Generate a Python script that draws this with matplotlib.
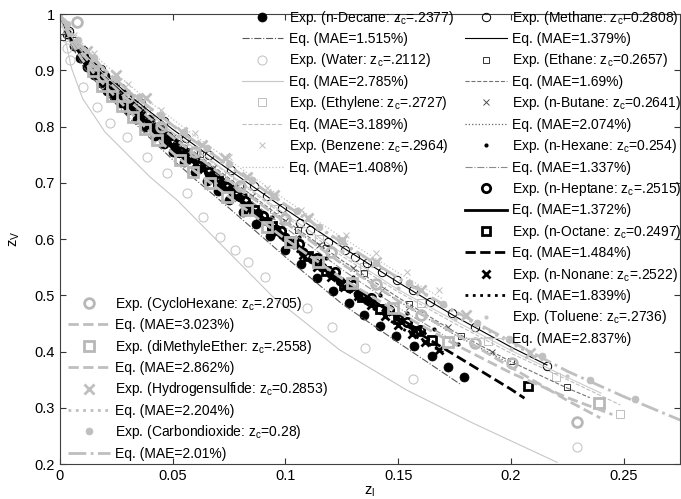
import numpy as np
import matplotlib
matplotlib.use("Agg")
import matplotlib.pyplot as plt
from matplotlib.ticker import FuncFormatter

plt.rcParams['font.family'] = ['Liberation Sans', 'DejaVu Sans']
plt.rcParams['mathtext.fontset'] = 'custom'
plt.rcParams['mathtext.rm'] = 'Liberation Sans'

# ---- data (z_L, z_V) ----
# n-Decane (two overlapping data sets form the black band)
dec_x = [0.003, 0.006, 0.009, 0.012, 0.015, 0.018, 0.021, 0.024, 0.027, 0.030, 0.034, 0.038,
         0.042, 0.046, 0.050, 0.055, 0.060, 0.065, 0.070, 0.075, 0.081, 0.087, 0.093, 0.100,
         0.107, 0.114, 0.121, 0.128, 0.135, 0.142, 0.149, 0.157, 0.165, 0.172, 0.179,
         0.016, 0.020, 0.024, 0.028, 0.032, 0.036, 0.040, 0.044, 0.048, 0.052, 0.056, 0.060,
         0.064, 0.068, 0.072, 0.076, 0.080, 0.084, 0.088, 0.092, 0.096, 0.100, 0.104, 0.108,
         0.112, 0.116, 0.120, 0.124, 0.128, 0.132, 0.136]
dec_y = [0.965, 0.944, 0.922, 0.906, 0.892, 0.878, 0.864, 0.852, 0.841, 0.829, 0.814, 0.799,
         0.784, 0.769, 0.754, 0.737, 0.720, 0.703, 0.686, 0.669, 0.648, 0.627, 0.606, 0.580,
         0.555, 0.531, 0.508, 0.486, 0.465, 0.446, 0.428, 0.410, 0.392, 0.373, 0.354,
         0.906, 0.889, 0.873, 0.858, 0.842, 0.828, 0.813, 0.798, 0.784, 0.769, 0.755, 0.742,
         0.729, 0.715, 0.702, 0.689, 0.674, 0.660, 0.646, 0.632, 0.618, 0.604, 0.591, 0.577,
         0.564, 0.551, 0.538, 0.525, 0.513, 0.502, 0.491]
dec_eq_x = [0, 0.005, 0.01, 0.02, 0.03, 0.04, 0.05, 0.06, 0.075, 0.1, 0.125, 0.15, 0.1775]
dec_eq_y = [1, 0.945, 0.908, 0.860, 0.818, 0.779, 0.741, 0.706, 0.655, 0.568, 0.485, 0.416, 0.342]

# Water
wat_x = [0.001, 0.002, 0.003, 0.0044, 0.0102, 0.0164, 0.0222, 0.0297, 0.0386, 0.0475, 0.0563,
         0.0635, 0.0710, 0.0776, 0.0834, 0.0910, 0.1096, 0.1207, 0.1353, 0.1566, 0.2294]
wat_y = [0.985, 0.960, 0.940, 0.918, 0.870, 0.835, 0.806, 0.781, 0.746, 0.717, 0.682,
         0.639, 0.604, 0.580, 0.559, 0.532, 0.477, 0.443, 0.406, 0.351, 0.230]
wat_eq_x = [0, 0.005, 0.01, 0.02, 0.03, 0.04, 0.052, 0.07, 0.0945, 0.124, 0.154, 0.183, 0.2205]
wat_eq_y = [1, 0.905, 0.850, 0.790, 0.750, 0.710, 0.669, 0.596, 0.497, 0.403, 0.331, 0.273, 0.203]

# Ethylene
ety_x = [0.004, 0.012, 0.024, 0.038, 0.055, 0.075, 0.095, 0.115, 0.135, 0.16, 0.19, 0.22, 0.2485]
ety_y = [0.966, 0.922, 0.875, 0.827, 0.774, 0.712, 0.654, 0.600, 0.550, 0.487, 0.418, 0.355, 0.289]
ety_eq_x = [0, 0.005, 0.01, 0.02, 0.03, 0.05, 0.075, 0.1, 0.125, 0.15, 0.175, 0.2, 0.225, 0.2485]
ety_eq_y = [1, 0.960, 0.931, 0.889, 0.854, 0.788, 0.714, 0.640, 0.570, 0.506, 0.450, 0.397, 0.350, 0.305]

# Benzene
ben_x = [0.006, 0.015, 0.03, 0.045, 0.06, 0.075, 0.0918, 0.107, 0.127, 0.14, 0.154, 0.168]
ben_y = [0.962, 0.930, 0.875, 0.830, 0.788, 0.745, 0.691, 0.652, 0.607, 0.575, 0.541, 0.510]
ben_eq_x = [0, 0.01, 0.02, 0.04, 0.06, 0.08, 0.1, 0.125, 0.15, 0.17]
ben_eq_y = [1, 0.948, 0.910, 0.843, 0.783, 0.726, 0.670, 0.603, 0.540, 0.493]

# Methane
met_x = [0.004, 0.01, 0.018, 0.027, 0.036, 0.046, 0.056, 0.066, 0.076, 0.086, 0.092, 0.0985,
         0.1065, 0.111, 0.119, 0.1265, 0.131, 0.136, 0.143, 0.1495, 0.1566, 0.164, 0.174, 0.184, 0.216]
met_y = [0.970, 0.936, 0.903, 0.869, 0.841, 0.810, 0.780, 0.750, 0.722, 0.694, 0.677, 0.655,
         0.628, 0.616, 0.595, 0.580, 0.568, 0.557, 0.541, 0.527, 0.509, 0.488, 0.468, 0.443, 0.374]
met_eq_x = [0, 0.005, 0.01, 0.02, 0.03, 0.04, 0.05, 0.06, 0.075, 0.1, 0.125, 0.15, 0.175, 0.2, 0.216]
met_eq_y = [1, 0.960, 0.933, 0.893, 0.858, 0.826, 0.795, 0.766, 0.723, 0.653, 0.586, 0.523, 0.463, 0.408, 0.376]

# Ethane
eta_x = [0.001, 0.006, 0.016, 0.03, 0.045, 0.062, 0.08, 0.1056, 0.118, 0.135, 0.155, 0.178, 0.2, 0.225]
eta_y = [0.959, 0.953, 0.904, 0.852, 0.802, 0.751, 0.696, 0.616, 0.584, 0.540, 0.485, 0.428, 0.384, 0.337]
eta_eq_x = [0, 0.005, 0.01, 0.02, 0.03, 0.05, 0.075, 0.1, 0.125, 0.15, 0.175, 0.2, 0.225, 0.235]
eta_eq_y = [1, 0.958, 0.929, 0.887, 0.850, 0.784, 0.708, 0.633, 0.562, 0.496, 0.435, 0.382, 0.335, 0.318]

# n-Butane
but_x = [0.008, 0.02, 0.035, 0.05, 0.068, 0.085, 0.1, 0.115, 0.13, 0.143, 0.155, 0.172, 0.1917]
but_y = [0.940, 0.886, 0.833, 0.782, 0.726, 0.676, 0.632, 0.589, 0.548, 0.509, 0.479, 0.443, 0.399]
but_eq_x = [0, 0.005, 0.01, 0.02, 0.03, 0.05, 0.075, 0.1, 0.125, 0.15, 0.175, 0.2]
but_eq_y = [1, 0.957, 0.928, 0.885, 0.848, 0.781, 0.704, 0.629, 0.557, 0.490, 0.430, 0.378]

# n-Hexane
hex_x = [0.004, 0.012, 0.022, 0.034, 0.046, 0.058, 0.07, 0.082, 0.094, 0.106, 0.118, 0.13,
         0.142, 0.154, 0.166, 0.1766]
hex_y = [0.964, 0.920, 0.877, 0.833, 0.790, 0.752, 0.714, 0.678, 0.640, 0.603, 0.567, 0.532,
         0.500, 0.469, 0.440, 0.413]
hex_eq_x = [0, 0.005, 0.01, 0.02, 0.03, 0.05, 0.075, 0.1, 0.125, 0.15, 0.178]
hex_eq_y = [1, 0.956, 0.925, 0.882, 0.845, 0.775, 0.698, 0.620, 0.546, 0.478, 0.410]

# n-Heptane
hep_x = [0.01, 0.018, 0.026, 0.034, 0.042, 0.05, 0.058, 0.066, 0.074, 0.082, 0.09, 0.098,
         0.106, 0.114, 0.122, 0.13, 0.138, 0.146, 0.154, 0.1597]
hep_y = [0.925, 0.889, 0.857, 0.827, 0.798, 0.770, 0.745, 0.719, 0.693, 0.667, 0.641, 0.615,
         0.591, 0.566, 0.541, 0.518, 0.496, 0.474, 0.453, 0.438]
hep_eq_x = [0, 0.005, 0.01, 0.02, 0.03, 0.05, 0.075, 0.1, 0.125, 0.15, 0.162]
hep_eq_y = [1, 0.954, 0.922, 0.877, 0.839, 0.767, 0.687, 0.606, 0.529, 0.460, 0.432]

# n-Octane
oct_x = [0.014, 0.022, 0.03, 0.038, 0.046, 0.054, 0.062, 0.07, 0.078, 0.086, 0.094, 0.102,
         0.11, 0.118, 0.126, 0.134, 0.142, 0.15, 0.158, 0.165, 0.2077]
oct_y = [0.906, 0.872, 0.842, 0.812, 0.782, 0.755, 0.729, 0.703, 0.678, 0.651, 0.624, 0.597,
         0.570, 0.544, 0.519, 0.497, 0.476, 0.457, 0.437, 0.420, 0.339]
oct_eq_x = [0, 0.005, 0.01, 0.02, 0.03, 0.04, 0.05, 0.06, 0.075, 0.1, 0.125, 0.15, 0.175, 0.2, 0.206]
oct_eq_y = [1, 0.953, 0.921, 0.876, 0.838, 0.801, 0.765, 0.733, 0.685, 0.602, 0.520, 0.455, 0.394, 0.333, 0.317]

# n-Nonane
non_x = [0.012, 0.018, 0.024, 0.030, 0.036, 0.042, 0.048, 0.054, 0.060, 0.066, 0.072, 0.078,
         0.084, 0.090, 0.096, 0.102, 0.108, 0.114, 0.120, 0.126, 0.132, 0.138, 0.144, 0.150,
         0.156, 0.162, 0.168]
non_y = [0.918, 0.889, 0.864, 0.841, 0.818, 0.797, 0.774, 0.753, 0.733, 0.713, 0.694, 0.674,
         0.653, 0.632, 0.611, 0.591, 0.571, 0.551, 0.532, 0.515, 0.498, 0.482, 0.464, 0.447,
         0.432, 0.417, 0.402]
non_eq_x = [0, 0.005, 0.01, 0.02, 0.03, 0.05, 0.075, 0.1, 0.125, 0.15, 0.17]
non_eq_y = [1, 0.952, 0.918, 0.873, 0.834, 0.760, 0.678, 0.595, 0.516, 0.445, 0.398]

# Toluene
tol_x = [0.002, 0.005, 0.009, 0.014, 0.02, 0.03, 0.045, 0.06, 0.08, 0.1, 0.125, 0.15, 0.175, 0.2, 0.225]
tol_y = [0.985, 0.965, 0.945, 0.918, 0.893, 0.857, 0.807, 0.762, 0.700, 0.646, 0.578, 0.513, 0.458, 0.405, 0.357]
tol_eq_x = [0, 0.005, 0.01, 0.02, 0.03, 0.05, 0.075, 0.1, 0.125, 0.15, 0.175, 0.2, 0.225, 0.24]
tol_eq_y = [1, 0.960, 0.932, 0.891, 0.855, 0.790, 0.716, 0.644, 0.575, 0.510, 0.455, 0.402, 0.354, 0.326]

# CycloHexane
cyc_x = [0.0075, 0.015, 0.03, 0.045, 0.06, 0.08, 0.1, 0.12, 0.14, 0.16, 0.184, 0.2005, 0.2294]
cyc_y = [0.986, 0.910, 0.852, 0.800, 0.755, 0.695, 0.636, 0.577, 0.520, 0.465, 0.415, 0.379, 0.275]
cyc_eq_x = [0, 0.005, 0.01, 0.02, 0.03, 0.04, 0.05, 0.06, 0.075, 0.1, 0.125, 0.15, 0.175, 0.2, 0.225, 0.2396]
cyc_eq_y = [1, 0.958, 0.928, 0.885, 0.848, 0.814, 0.781, 0.750, 0.704, 0.629, 0.556, 0.490, 0.432, 0.372, 0.313, 0.282]

# diMethyleEther
dme_x = [0.0146, 0.0186, 0.0231, 0.0275, 0.0324, 0.0377, 0.0430, 0.0532, 0.059, 0.0666, 0.0741,
         0.083, 0.0918, 0.102, 0.1145, 0.1296, 0.1478, 0.172, 0.239]
dme_y = [0.899, 0.872, 0.854, 0.836, 0.817, 0.796, 0.776, 0.740, 0.719, 0.700, 0.675,
         0.652, 0.621, 0.595, 0.559, 0.522, 0.477, 0.417, 0.308]
dme_eq_x = [0, 0.005, 0.01, 0.02, 0.03, 0.04, 0.05, 0.06, 0.075, 0.1, 0.125, 0.15, 0.175, 0.2, 0.225, 0.245]
dme_eq_y = [1, 0.950, 0.918, 0.872, 0.830, 0.790, 0.753, 0.720, 0.675, 0.600, 0.530, 0.470, 0.413, 0.362, 0.318, 0.288]

# Hydrogensulfide
hs_x = [0.012, 0.025, 0.038, 0.054, 0.063, 0.073, 0.083, 0.095, 0.11, 0.125, 0.14, 0.16, 0.18, 0.2086]
hs_y = [0.935, 0.892, 0.850, 0.790, 0.767, 0.744, 0.710, 0.679, 0.637, 0.598, 0.560, 0.510, 0.465, 0.397]
hs_eq_x = [0, 0.005, 0.01, 0.02, 0.03, 0.04, 0.05, 0.06, 0.075, 0.1, 0.125, 0.15, 0.175, 0.2, 0.215]
hs_eq_y = [1, 0.966, 0.940, 0.900, 0.865, 0.833, 0.802, 0.773, 0.730, 0.660, 0.593, 0.530, 0.470, 0.415, 0.383]

# Carbondioxide
co2_x = [0.003, 0.008, 0.015, 0.025, 0.035, 0.045, 0.055, 0.065, 0.075, 0.085, 0.095, 0.105,
         0.115, 0.125, 0.14, 0.155, 0.17, 0.185, 0.199, 0.214, 0.235, 0.255, 0.277]
co2_y = [0.983, 0.954, 0.922, 0.885, 0.852, 0.820, 0.790, 0.762, 0.733, 0.705, 0.677, 0.650,
         0.622, 0.596, 0.558, 0.521, 0.485, 0.451, 0.422, 0.392, 0.350, 0.315, 0.280]
co2_eq_x = [0, 0.005, 0.01, 0.02, 0.03, 0.04, 0.05, 0.06, 0.075, 0.1, 0.125, 0.15, 0.175, 0.2, 0.225, 0.25, 0.28]
co2_eq_y = [1, 0.965, 0.939, 0.900, 0.865, 0.833, 0.802, 0.773, 0.730, 0.661, 0.594, 0.531, 0.472, 0.418, 0.365, 0.320, 0.270]

labels_1 = ["Exp. (n-Decane: $\\mathregular{z_c}$=.2377)", "Eq. (MAE=1.515%)",
            "Exp. (Water: $\\mathregular{z_c}$=.2112)", "Eq. (MAE=2.785%)",
            "Exp. (Ethylene: $\\mathregular{z_c}$=.2727)", "Eq. (MAE=3.189%)",
            "Exp. (Benzene: $\\mathregular{z_c}$=.2964)", "Eq. (MAE=1.408%)"]
labels_2 = ["Exp. (Methane: $\\mathregular{z_c}$=0.2808)", "Eq. (MAE=1.379%)",
            "Exp. (Ethane: $\\mathregular{z_c}$=0.2657)", "Eq. (MAE=1.69%)",
            "Exp. (n-Butane: $\\mathregular{z_c}$=0.2641)", "Eq. (MAE=2.074%)",
            "Exp. (n-Hexane: $\\mathregular{z_c}$=0.254)", "Eq. (MAE=1.337%)",
            "Exp. (n-Heptane: $\\mathregular{z_c}$=.2515)", "Eq. (MAE=1.372%)",
            "Exp. (n-Octane: $\\mathregular{z_c}$=0.2497)", "Eq. (MAE=1.484%)",
            "Exp. (n-Nonane: $\\mathregular{z_c}$=.2522)", "Eq. (MAE=1.839%)",
            "Exp. (Toluene: $\\mathregular{z_c}$=.2736)", "Eq. (MAE=2.837%)"]
labels_3 = ["Exp. (CycloHexane: $\\mathregular{z_c}$=.2705)", "Eq. (MAE=3.023%)",
            "Exp. (diMethyleEther: $\\mathregular{z_c}$=.2558)", "Eq. (MAE=2.862%)",
            "Exp. (Hydrogensulfide: $\\mathregular{z_c}$=0.2853)", "Eq. (MAE=2.204%)",
            "Exp. (Carbondioxide: $\\mathregular{z_c}$=0.28)", "Eq. (MAE=2.01%)"]

fig = plt.figure(figsize=(6.81, 4.99), dpi=100)
ax = fig.add_axes([0.0881, 0.0701, 0.9104, 0.9018])

lg = '0.75'
# (exp x, exp y, marker style, eq x, eq y, line style)
series = [
    (dec_x, dec_y, dict(marker='o', ms=6.5, mfc='k', mec='k', mew=0.5), dec_eq_x, dec_eq_y, dict(ls='-.', color='0.35', lw=0.8)),
    (wat_x, wat_y, dict(marker='o', ms=6.5, mfc='none', mec='0.78', mew=0.8), wat_eq_x, wat_eq_y, dict(ls='-', color='0.78', lw=0.8)),
    (ety_x, ety_y, dict(marker='s', ms=5.5, mfc='none', mec=lg, mew=0.7), ety_eq_x, ety_eq_y, dict(ls='--', color=lg, lw=0.8)),
    (ben_x, ben_y, dict(marker='x', ms=5, mfc='none', mec=lg, mew=0.7), ben_eq_x, ben_eq_y, dict(ls=':', color=lg, lw=0.9)),
    (met_x, met_y, dict(marker='o', ms=6, mfc='none', mec='k', mew=0.7), met_eq_x, met_eq_y, dict(ls='-', color='k', lw=0.8)),
    (eta_x, eta_y, dict(marker='s', ms=5, mfc='none', mec='0.2', mew=0.7), eta_eq_x, eta_eq_y, dict(ls='--', color='0.45', lw=0.8)),
    (but_x, but_y, dict(marker='x', ms=5, mfc='none', mec='0.3', mew=0.7), but_eq_x, but_eq_y, dict(ls=':', color='0.4', lw=0.9)),
    (hex_x, hex_y, dict(marker='.', ms=4, mfc='k', mec='k'), hex_eq_x, hex_eq_y, dict(ls='-.', color='0.55', lw=0.8)),
    (hep_x, hep_y, dict(marker='o', ms=6, mfc='none', mec='k', mew=2), hep_eq_x, hep_eq_y, dict(ls='-', color='k', lw=2)),
    (oct_x, oct_y, dict(marker='s', ms=6, mfc='none', mec='k', mew=2), oct_eq_x, oct_eq_y, dict(ls='--', color='k', lw=2)),
    (non_x, non_y, dict(marker='x', ms=6, mfc='none', mec='k', mew=2), non_eq_x, non_eq_y, dict(ls=':', color='k', lw=2)),
    (tol_x, tol_y, dict(marker='.', ms=4, mfc='0.78', mec='0.78'), tol_eq_x, tol_eq_y, dict(ls='-', color='0.8', lw=0.8)),
    (cyc_x, cyc_y, dict(marker='o', ms=7, mfc='none', mec='0.72', mew=2), cyc_eq_x, cyc_eq_y, dict(ls='--', color='0.75', lw=2)),
    (dme_x, dme_y, dict(marker='s', ms=7, mfc='none', mec='0.72', mew=2), dme_eq_x, dme_eq_y, dict(ls='--', color='0.75', lw=2)),
    (hs_x, hs_y, dict(marker='x', ms=7, mfc='none', mec='0.75', mew=2), hs_eq_x, hs_eq_y, dict(ls=':', color='0.75', lw=2)),
    (co2_x, co2_y, dict(marker='o', ms=5, mfc='0.75', mec='0.75', mew=0.5), co2_eq_x, co2_eq_y, dict(ls='-.', color='0.75', lw=2)),
]

handles = []
for ex, ey, mst, qx, qy, lst in series:
    h1, = ax.plot(ex, ey, ls='none', **mst)
    h2, = ax.plot(qx, qy, **lst)
    handles += [h1, h2]

ax.set_xlim(0, 0.275)
ax.set_ylim(0.2, 1.0)
ax.set_xticks([0, 0.05, 0.1, 0.15, 0.2, 0.25])
ax.set_yticks([0.2, 0.3, 0.4, 0.5, 0.6, 0.7, 0.8, 0.9, 1.0])
fmt = FuncFormatter(lambda v, p: '%g' % round(v, 3))
ax.xaxis.set_major_formatter(fmt)
ax.yaxis.set_major_formatter(fmt)
ax.tick_params(direction='in', top=True, right=True, labelsize=10.5, length=4, width=0.8, color='0.2')
for s in ax.spines.values():
    s.set_color('0.25')
    s.set_linewidth(0.8)
ax.set_xlabel('$\\mathregular{z_l}$', fontsize=10.5, labelpad=1)
ax.set_ylabel('$\\mathregular{z_V}$', fontsize=10.5, labelpad=9)

leg_kw = dict(frameon=False, fontsize=10, handlelength=3.0, handletextpad=0.4,
              labelspacing=0.39, borderpad=0, borderaxespad=0, loc='upper left')
leg1 = ax.legend(handles[0:8], labels_1, bbox_to_anchor=(0.293, 1.012), **leg_kw)
ax.add_artist(leg1)
leg2 = ax.legend(handles[8:24], labels_2, bbox_to_anchor=(0.653, 1.012), **leg_kw)
ax.add_artist(leg2)
leg3 = ax.legend(handles[24:32], labels_3, bbox_to_anchor=(0.013, 0.376), **leg_kw)

fig.savefig('out.png', dpi=100)
